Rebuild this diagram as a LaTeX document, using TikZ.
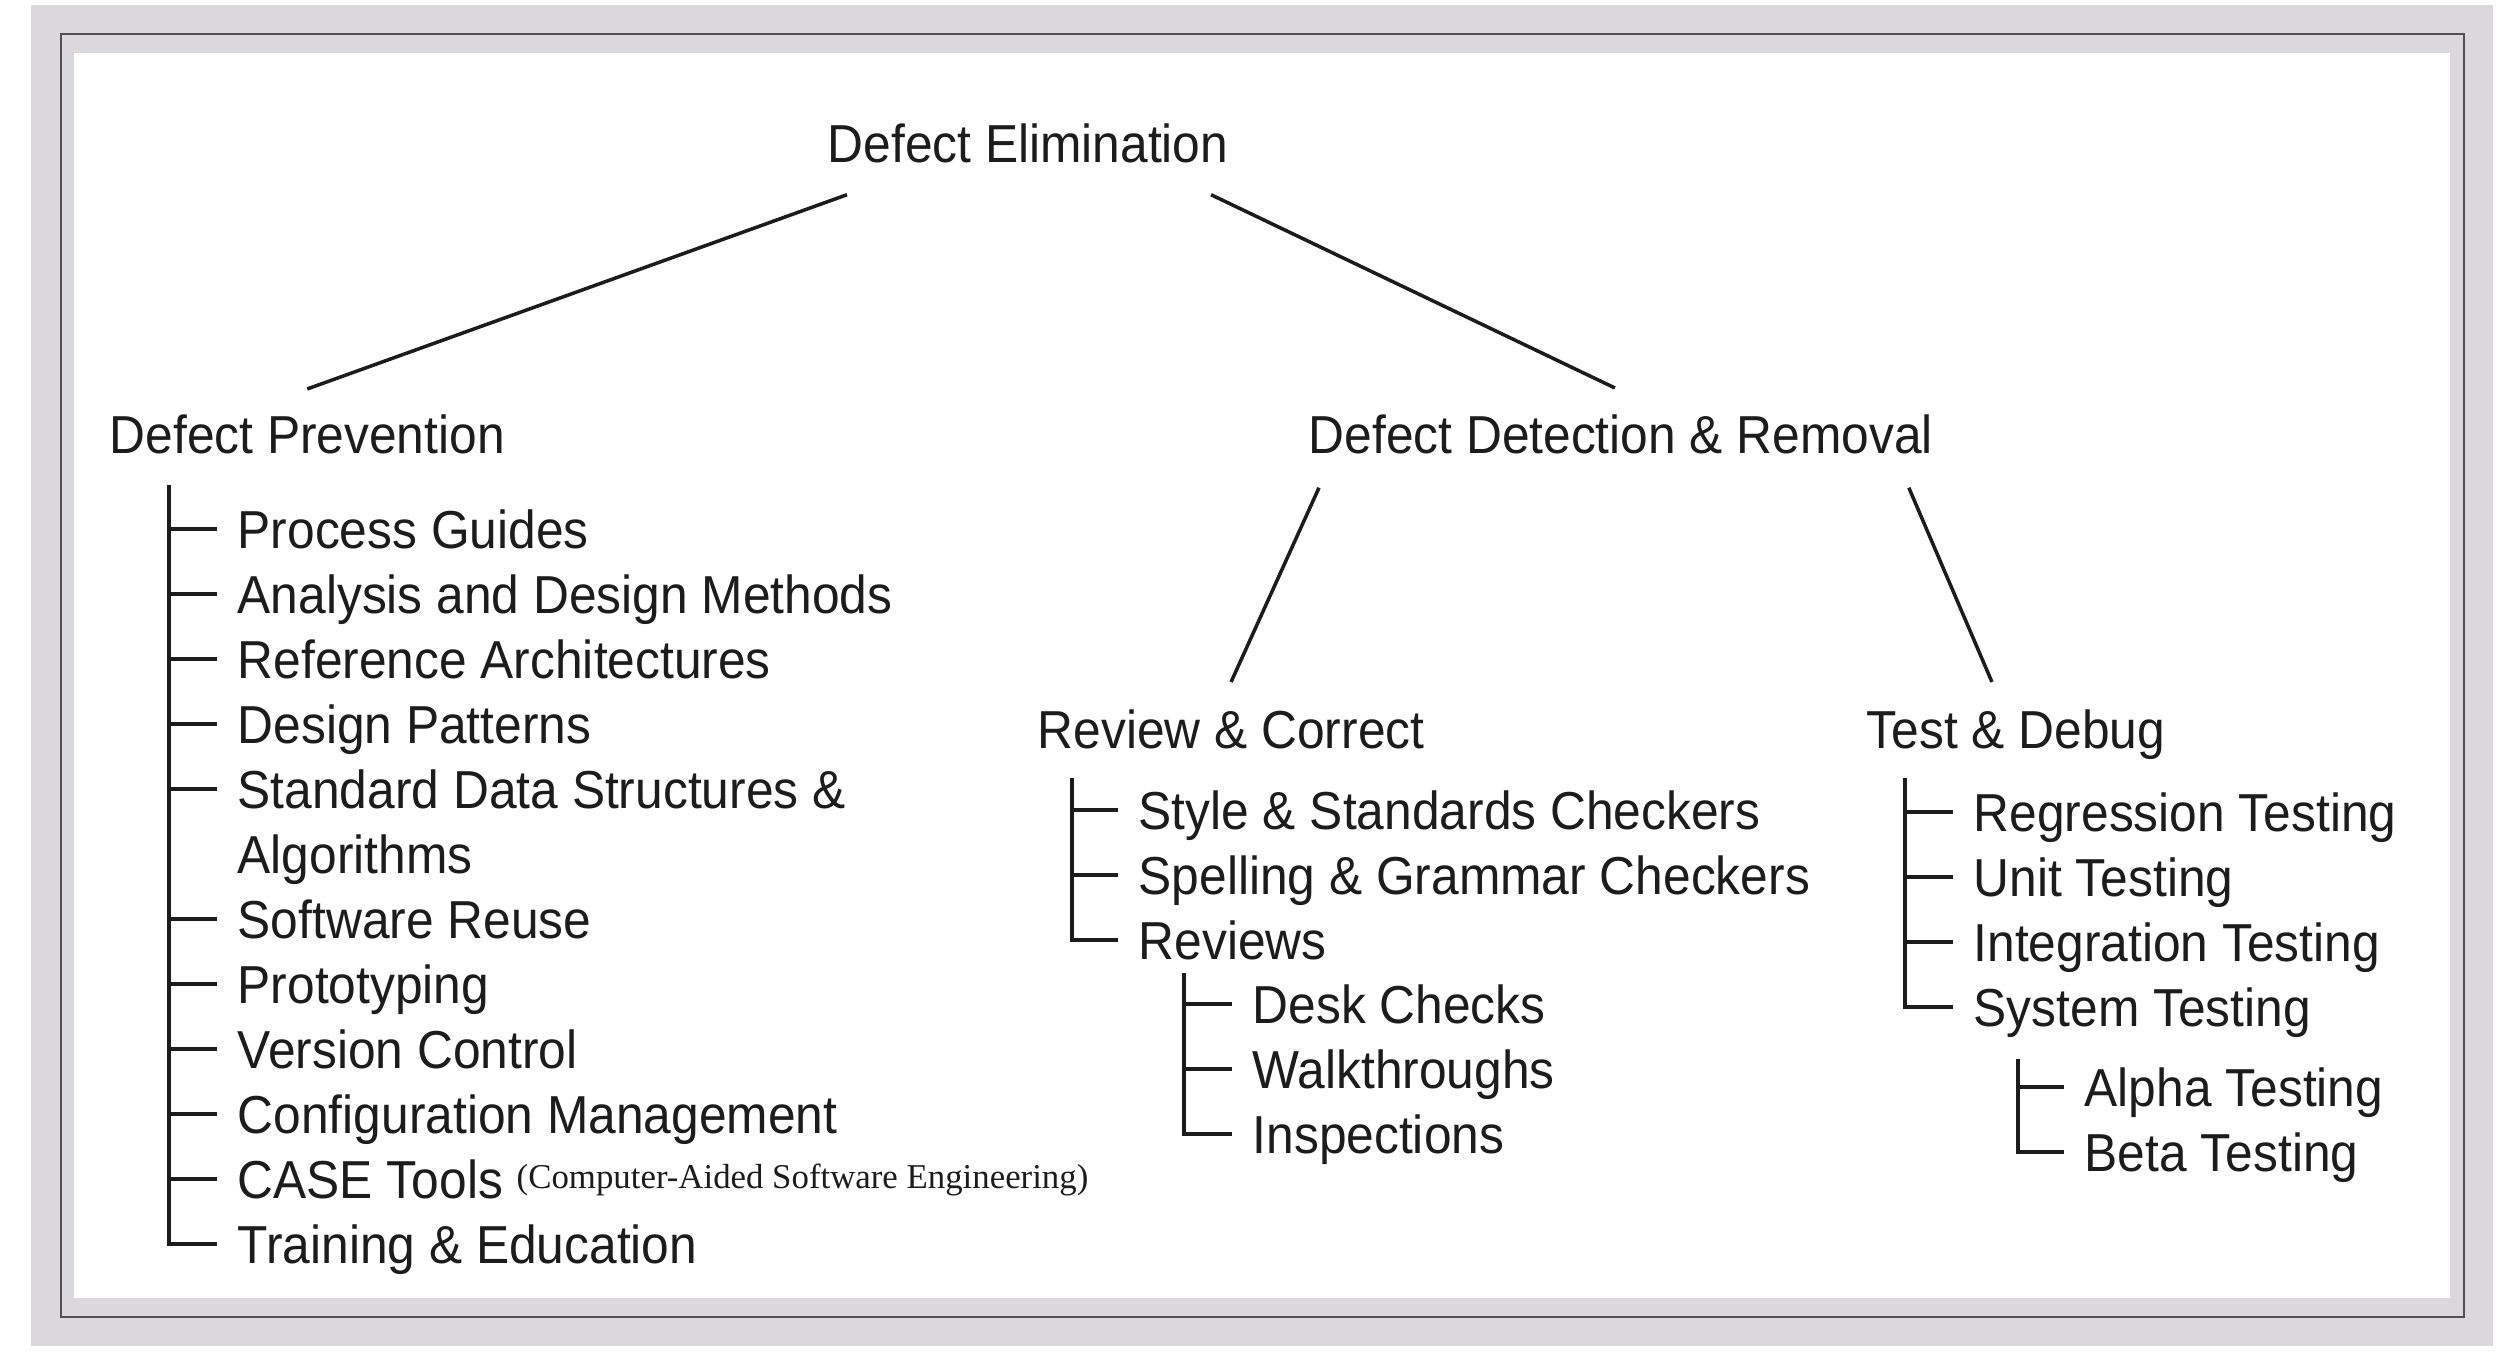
\documentclass[tikz,border=0pt]{standalone}
\usepackage{fontspec}
\setmainfont{Liberation Sans}[FakeStretch=0.93]
\newfontfamily\casefont{Liberation Serif}
\definecolor{framegrey}{RGB}{218,216,221}
\definecolor{framerule}{RGB}{80,80,84}
\definecolor{ink}{RGB}{28,28,28}
\tikzset{
  lbl/.style={anchor=base west, inner sep=0pt, text height=10.9pt, text depth=0pt,
    text=ink, font=\fontsize{15.2}{18}\selectfont},
}
\begin{document}
\begin{tikzpicture}[x=0.01cm,y=-0.01cm]
      \useasboundingbox (0,0) rectangle (2520,1354);
      \fill[framegrey] (31,5) rectangle (2493,1346);
      \draw[framerule, line width=0.6pt] (61,34) rectangle (2464,1317);
      \fill[white] (74,53) rectangle (2450,1298);
      \draw
        (827,162) node[lbl] (de){Defect Elimination}
        (109,453) node[lbl] (dp){Defect Prevention}
        (1308,453) node[lbl] (ddr){Defect Detection \& Removal}
        (1037,748) node[lbl] (rc){Review \& Correct}
        (1866,748) node[lbl] (td){Test \& Debug};
      \draw
        (237,548) node[lbl] (pg){Process Guides}
        (237,613) node[lbl] (adm){Analysis and Design Methods}
        (237,678) node[lbl] (ra){Reference Architectures}
        (237,743) node[lbl] (dpat){Design Patterns}
        (237,808) node[lbl] (sds){Standard Data Structures \&}
        (237,873) node[lbl] (alg){Algorithms}
        (237,938) node[lbl] (sr){Software Reuse}
        (237,1003) node[lbl] (pt){Prototyping}
        (237,1068) node[lbl] (vc){Version Control}
        (237,1133) node[lbl] (cm){Configuration Management}
        (237,1198) node[lbl] (ct){CASE Tools \raisebox{0.1cm}{\casefont\fontsize{9.9}{12}\selectfont(Computer-Aided Software Engineering)}}
        (237,1263) node[lbl] (te){Training \& Education};
      \draw
        (1138,829) node[lbl] (ssc){Style \& Standards Checkers}
        (1138,894) node[lbl] (sgc){Spelling \& Grammar Checkers}
        (1138,959) node[lbl] (rv){Reviews}
        (1252,1023) node[lbl] (dc){Desk Checks}
        (1252,1088) node[lbl] (wt){Walkthroughs}
        (1252,1153) node[lbl] (ins){Inspections};
      \draw
        (1973,831) node[lbl] (rt){Regression Testing}
        (1973,896) node[lbl] (ut){Unit Testing}
        (1973,961) node[lbl] (it){Integration Testing}
        (1973,1026) node[lbl] (st){System Testing}
        (2084,1106) node[lbl] (at){Alpha Testing}
        (2084,1171) node[lbl] (bt){Beta Testing};
      \coordinate (dptrunk) at (169,485);
      \coordinate (rctrunk) at (1072,778);
      \coordinate (rvtrunk) at (1184,973);
      \coordinate (tdtrunk) at (1905,778);
      \coordinate (sttrunk) at (2018,1059);
      \begin{scope}[-, ink, line width=1pt]
        \draw ([shift={(20,32)}]de.south west) to ([yshift=0.25cm]dp.north);
        \draw ([shift={(-18,32)}]de.south east) to ([shift={(-6,-26)}]ddr.north);
        \draw ([shift={(11,34)}]ddr.south west) to ([yshift=0.27cm]rc.north);
        \draw ([shift={(-25,34)}]ddr.south east) to ([shift={(-24,-27)}]td.north);
        \draw (dptrunk |- pg.west) to ([xshift=-0.2cm]pg.west);
        \draw (dptrunk |- adm.west) to ([xshift=-0.2cm]adm.west);
        \draw (dptrunk |- ra.west) to ([xshift=-0.2cm]ra.west);
        \draw (dptrunk |- dpat.west) to ([xshift=-0.2cm]dpat.west);
        \draw (dptrunk |- sds.west) to ([xshift=-0.2cm]sds.west);
        \draw (dptrunk |- sr.west) to ([xshift=-0.2cm]sr.west);
        \draw (dptrunk |- pt.west) to ([xshift=-0.2cm]pt.west);
        \draw (dptrunk |- vc.west) to ([xshift=-0.2cm]vc.west);
        \draw (dptrunk |- cm.west) to ([xshift=-0.2cm]cm.west);
        \draw (dptrunk |- ct.west) to ([xshift=-0.2cm]ct.west);
        \draw (dptrunk) |- ([xshift=-0.2cm]te.west);
        \draw (rctrunk |- ssc.west) to ([xshift=-0.2cm]ssc.west);
        \draw (rctrunk |- sgc.west) to ([xshift=-0.2cm]sgc.west);
        \draw (rctrunk) |- ([xshift=-0.2cm]rv.west);
        \draw (rvtrunk |- dc.west) to ([xshift=-0.2cm]dc.west);
        \draw (rvtrunk |- wt.west) to ([xshift=-0.2cm]wt.west);
        \draw (rvtrunk) |- ([xshift=-0.2cm]ins.west);
        \draw (tdtrunk |- rt.west) to ([xshift=-0.2cm]rt.west);
        \draw (tdtrunk |- ut.west) to ([xshift=-0.2cm]ut.west);
        \draw (tdtrunk |- it.west) to ([xshift=-0.2cm]it.west);
        \draw (tdtrunk) |- ([xshift=-0.2cm]st.west);
        \draw (sttrunk |- at.west) to ([xshift=-0.2cm]at.west);
        \draw (sttrunk) |- ([xshift=-0.2cm]bt.west);
      \end{scope}
    \end{tikzpicture}
\end{document}
